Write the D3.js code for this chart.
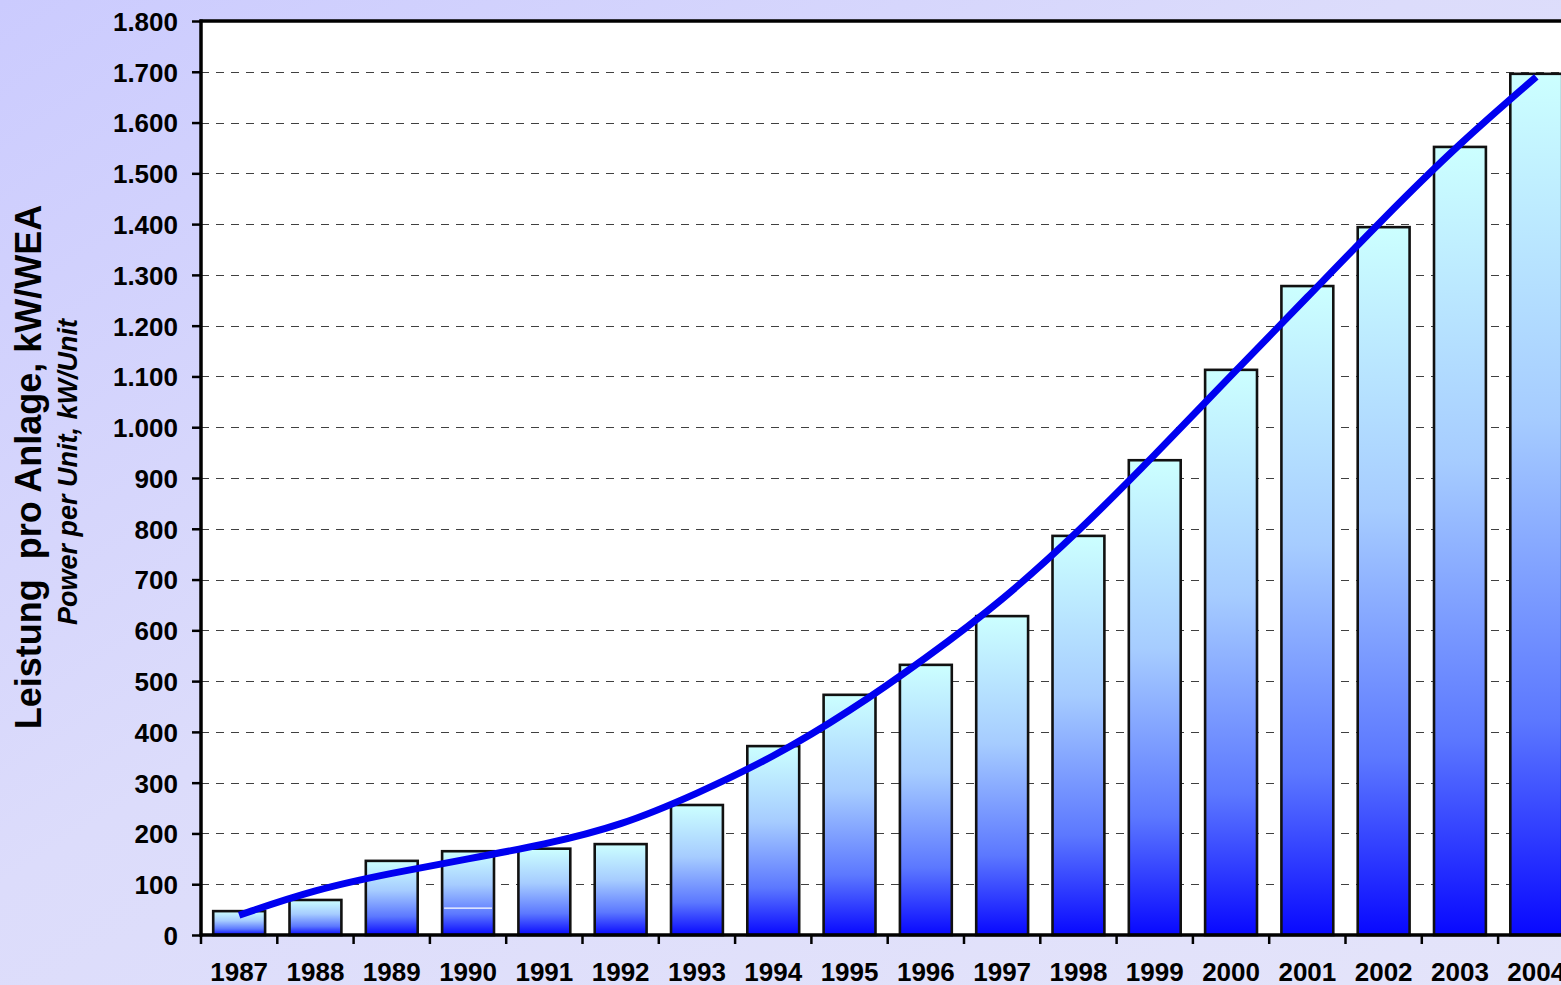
<!DOCTYPE html>
<html>
<head>
<meta charset="utf-8">
<script src="https://cdn.jsdelivr.net/npm/d3@7/dist/d3.min.js"></script>
<style>
  html, body { margin: 0; padding: 0; overflow: hidden; }
  svg { display: block; font-family: "Liberation Sans", Arial, sans-serif; }
  .tick-label { font-size: 26px; font-weight: bold; fill: #000; }
  .grid line { stroke: #404040; stroke-width: 1; stroke-dasharray: 8,7; }
</style>
</head>
<body>
<div id="chart"></div>
<script>
// years on the x axis
const years = ['1987', '1988', '1989', '1990', '1991', '1992', '1993', '1994', '1995',
    '1996', '1997', '1998', '1999', '2000', '2001', '2002', '2003', '2004'];

// average power per unit, kW
const powerPerUnit = [47, 69, 146, 165, 170, 179, 256, 372, 473,
    532, 628, 786, 935, 1113, 1278, 1394, 1552, 1696];

// trend line at each year
const trendValues = [39, 90, 122, 150, 178, 215, 278, 350, 440,
    545, 658, 794, 945, 1102, 1256, 1412, 1560, 1690];

const yTicks = [0, 100, 200, 300, 400, 500, 600, 700, 800, 900,
    1000, 1100, 1200, 1300, 1400, 1500, 1600, 1700, 1800];

// thin white line seen inside the 1990 bar
const barSplits = [{ year: '1990', value: 53 }];

const titleMain = 'Leistung\u00a0 pro Anlage, kW/WEA';
const titleSub = 'Power per Unit, kW/Unit';

function createChart() {
    const W = 1561, H = 985;
    const plot = { left: 201, top: 21, bottom: 935, step: 76.3 };
    plot.right = plot.left + plot.step * years.length;

    const svg = d3.select('#chart').append('svg')
        .attr('width', W)
        .attr('height', H);

    const defs = svg.append('defs');

    // page background, lavender getting lighter toward bottom right
    const bg = defs.append('linearGradient')
        .attr('id', 'bg-grad')
        .attr('x1', 0).attr('y1', 0).attr('x2', 1).attr('y2', 1);
    bg.append('stop').attr('offset', '0%').attr('stop-color', '#cbcbfe');
    bg.append('stop').attr('offset', '45%').attr('stop-color', '#dcdcfb');
    bg.append('stop').attr('offset', '100%').attr('stop-color', '#e4e4fa');

    // bar fill, cyan on top down to blue
    const barGrad = defs.append('linearGradient')
        .attr('id', 'bar-grad')
        .attr('x1', 0).attr('y1', 0).attr('x2', 0).attr('y2', 1);
    barGrad.append('stop').attr('offset', '0%').attr('stop-color', '#ccffff');
    barGrad.append('stop').attr('offset', '40%').attr('stop-color', '#a6ccff');
    barGrad.append('stop').attr('offset', '75%').attr('stop-color', '#5c78ff');
    barGrad.append('stop').attr('offset', '100%').attr('stop-color', '#0808ff');

    svg.append('rect')
        .attr('width', W).attr('height', H)
        .attr('fill', 'url(#bg-grad)');

    const x = d3.scaleBand()
        .domain(years)
        .range([plot.left, plot.right])
        .paddingInner(0.32)
        .paddingOuter(0.16);

    const y = d3.scaleLinear()
        .domain([0, 1800])
        .range([plot.bottom, plot.top]);

    const de = d3.formatLocale({ decimal: ',', thousands: '.', grouping: [3], currency: ['', ' €'] });
    const fmt = de.format(',d');

    // plot area
    svg.append('rect')
        .attr('x', plot.left).attr('y', plot.top)
        .attr('width', plot.right - plot.left)
        .attr('height', plot.bottom - plot.top)
        .attr('fill', '#fff');

    // dashed grid lines
    svg.append('g')
        .attr('class', 'grid')
        .selectAll('line')
        .data(yTicks.filter(d => d > 0 && d < 1800))
        .enter().append('line')
        .attr('x1', plot.left).attr('x2', plot.right)
        .attr('y1', d => Math.round(y(d)) + 0.5)
        .attr('y2', d => Math.round(y(d)) + 0.5);

    // bars
    const data = years.map((yr, i) => ({ year: yr, value: powerPerUnit[i], trend: trendValues[i] }));

    svg.append('g')
        .selectAll('rect')
        .data(data)
        .enter().append('rect')
        .attr('x', d => x(d.year))
        .attr('y', d => y(d.value))
        .attr('width', x.bandwidth())
        .attr('height', d => y(0) - y(d.value))
        .attr('fill', 'url(#bar-grad)')
        .attr('stroke', '#111')
        .attr('stroke-width', 2.6);

    svg.append('g')
        .selectAll('line')
        .data(barSplits)
        .enter().append('line')
        .attr('x1', d => x(d.year) + 2)
        .attr('x2', d => x(d.year) + x.bandwidth() - 2)
        .attr('y1', d => y(d.value))
        .attr('y2', d => y(d.value))
        .attr('stroke', '#fff')
        .attr('stroke-width', 1.2);

    // frame: top border and axes
    svg.append('line')
        .attr('x1', plot.left - 1.5).attr('x2', plot.right)
        .attr('y1', plot.top).attr('y2', plot.top)
        .attr('stroke', '#000').attr('stroke-width', 3.5);

    // y axis
    const yAxis = svg.append('g')
        .attr('transform', `translate(${plot.left},0)`)
        .call(d3.axisLeft(y).tickValues(yTicks).tickSize(9).tickPadding(14).tickFormat(fmt));
    yAxis.select('.domain').remove();
    yAxis.selectAll('.tick line').attr('stroke', '#000').attr('stroke-width', 2.5);
    yAxis.selectAll('.tick text').attr('class', 'tick-label')
        .attr('font-family', null).attr('font-size', null).attr('dy', '0.36em');
    yAxis.append('line')
        .attr('x1', 0).attr('x2', 0)
        .attr('y1', plot.top - 1.5).attr('y2', plot.bottom + 1.5)
        .attr('stroke', '#000').attr('stroke-width', 3.5);

    // x axis: ticks between categories
    const xAxis = svg.append('g');
    xAxis.append('line')
        .attr('x1', plot.left - 1.5).attr('x2', plot.right)
        .attr('y1', plot.bottom).attr('y2', plot.bottom)
        .attr('stroke', '#000').attr('stroke-width', 3.5);
    xAxis.selectAll('.xtick')
        .data(years)
        .enter().append('line')
        .attr('x1', d => x(d) - x.step() * 0.16)
        .attr('x2', d => x(d) - x.step() * 0.16)
        .attr('y1', plot.bottom)
        .attr('y2', plot.bottom + 9)
        .attr('stroke', '#000').attr('stroke-width', 2.5);
    xAxis.selectAll('.xlabel')
        .data(years)
        .enter().append('text')
        .attr('class', 'tick-label')
        .attr('x', d => x(d) + x.bandwidth() / 2)
        .attr('y', 981)
        .attr('text-anchor', 'middle')
        .text(d => d);

    // trend line, smoothed through the read-off points
    const line = d3.line()
        .x(d => x(d.year) + x.bandwidth() / 2)
        .y(d => y(d.trend))
        .curve(d3.curveBasis);

    svg.append('path')
        .datum(data)
        .attr('d', line)
        .attr('fill', 'none')
        .attr('stroke', '#0000f0')
        .attr('stroke-width', 7);

    // axis titles
    svg.append('text')
        .attr('transform', 'translate(41,467) rotate(-90)')
        .attr('text-anchor', 'middle')
        .attr('font-size', 36)
        .attr('font-weight', 'bold')
        .text(titleMain);

    svg.append('text')
        .attr('transform', 'translate(77,472) rotate(-90)')
        .attr('text-anchor', 'middle')
        .attr('font-size', 27)
        .attr('font-weight', 'bold')
        .attr('font-style', 'italic')
        .text(titleSub);
}

document.addEventListener('DOMContentLoaded', createChart);
</script>
</body>
</html>
